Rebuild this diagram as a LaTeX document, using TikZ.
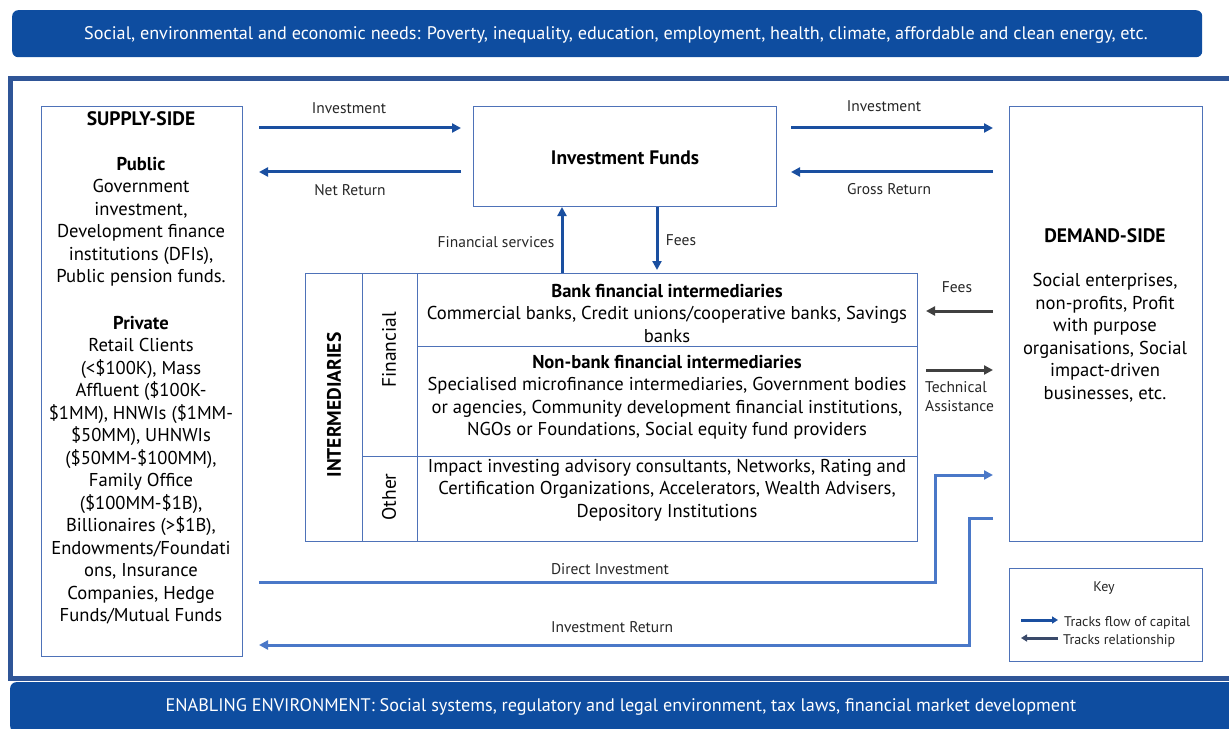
\documentclass[tikz,border=0pt]{standalone}
\usepackage{fontspec}
\setmainfont{PT Sans}
\usetikzlibrary{arrows.meta,calc}
\definecolor{banner}{HTML}{0E4DA0}
\definecolor{frameblue}{HTML}{2F5597}
\definecolor{boxline}{HTML}{4E72B8}
\definecolor{flow}{HTML}{1A4FA0}
\definecolor{lflow}{HTML}{4A78C8}
\definecolor{rel}{HTML}{404040}
\definecolor{keyrel}{HTML}{3A4A6A}
\tikzset{
  bodytxt/.style={align=center, inner sep=0pt, font=\fontsize{18.6bp}{22.5bp}\selectfont},
  headtxt/.style={inner sep=0pt, font=\fontsize{19.5bp}{22bp}\selectfont\bfseries},
  lbl/.style={inner sep=0pt, font=\fontsize{15.5bp}{19bp}\selectfont, text=black!85},
  keylbl/.style={inner sep=0pt, font=\fontsize{14bp}{16bp}\selectfont, text=black!85},
  cell/.style={draw=boxline, line width=1bp, rectangle, inner sep=0pt, anchor=north west},
  bannerbox/.style={fill=banner, rounded corners=6bp, draw=none, anchor=north west, inner sep=0pt},
  bannertxt/.style={text=white, inner sep=0pt, font=\fontsize{18.2bp}{20bp}\selectfont},
  flowarr/.style={draw=flow, line width=3bp, -{Triangle[length=9bp,width=9bp]}},
  lflowarr/.style={draw=lflow, line width=3bp, -{Triangle[length=9bp,width=9bp]}},
  relarr/.style={draw=rel, line width=3bp, -{Triangle[length=9bp,width=9bp]}},
}
\begin{document}
\begin{tikzpicture}[x=1bp,y=-1bp]
\useasboundingbox (0,0) rectangle (1229,729);
% banners
\node[bannerbox, minimum width=1190bp, minimum height=47bp] (top) at (12,10) {};
\node[bannertxt] (toptxt) at (616,34.5) {Social, environmental and economic needs: Poverty, inequality, education, employment, health, climate, affordable and clean energy, etc.};
\draw[frameblue, line width=5bp] (1229,79) -- (10.5,79) -- (10.5,678) -- (1229,678);
\node[bannerbox, minimum width=1230bp, minimum height=50bp] (bot) at (10,682) {};
\node[bannertxt] (bottxt) at (621,707) {ENABLING ENVIRONMENT: Social systems, regulatory and legal environment, tax laws, financial market development};

% supply side
\node[cell, minimum width=201bp, minimum height=550bp] (sup) at (41,106) {};
\node[headtxt] (suph) at (141,119) {SUPPLY-SIDE};
\node[bodytxt] (pub) at (141,221.5) {\textbf{Public}\\Government\\investment,\\Development finance\\institutions (DFIs),\\Public pension funds.};
\node[bodytxt] (priv) at (141,470) {\textbf{Private}\\Retail Clients\\(<\$100K), Mass\\Affluent (\$100K-\\\$1MM), HNWIs (\$1MM-\\\$50MM), UHNWIs\\(\$50MM-\$100MM),\\Family Office\\(\$100MM-\$1B),\\Billionaires (>\$1B),\\Endowments/Foundati\\ons, Insurance\\Companies, Hedge\\Funds/Mutual Funds};

% investment funds
\node[cell, minimum width=303bp, minimum height=100bp] (funds) at (473,106) {};
\node[headtxt] (fundst) at (625,158) {Investment Funds};

% demand side
\node[cell, minimum width=193bp, minimum height=435bp] (dem) at (1009,106) {};
\node[headtxt] (demh) at (1105,236) {DEMAND-SIDE};
\node[bodytxt] (demt) at (1105,338) {Social enterprises,\\non-profits, Profit\\with purpose\\organisations, Social\\impact-driven\\businesses, etc.};

% intermediaries table
\node[cell, minimum width=57bp, minimum height=268bp] (int) at (305,273) {};
\node[cell, minimum width=55bp, minimum height=183bp] (fin) at (362,273) {};
\node[cell, minimum width=55bp, minimum height=85bp] (oth) at (362,456) {};
\node[cell, minimum width=500bp, minimum height=73bp] (bank) at (417,273) {};
\node[cell, minimum width=500bp, minimum height=110bp] (nbank) at (417,346) {};
\node[cell, minimum width=500bp, minimum height=85bp] (other) at (417,456) {};
\node[headtxt, rotate=90] (intt) at (334,405) {INTERMEDIARIES};
\node[bodytxt, rotate=90, font=\fontsize{19.5bp}{22bp}\selectfont] (fint) at (389,350) {Financial};
\node[bodytxt, rotate=90, font=\fontsize{19.5bp}{22bp}\selectfont] (otht) at (389,497) {Other};
\node[bodytxt] (bankt) at (667,313) {\textbf{Bank financial intermediaries}\\Commercial banks, Credit unions/cooperative banks, Savings\\banks};
\node[bodytxt] (nbankt) at (667,397.5) {\textbf{Non-bank financial intermediaries}\\Specialised microfinance intermediaries, Government bodies\\or agencies, Community development financial institutions,\\NGOs or Foundations, Social equity fund providers};
\node[bodytxt] (othert) at (667,490) {Impact investing advisory consultants, Networks, Rating and\\Certification Organizations, Accelerators, Wealth Advisers,\\Depository Institutions};

% coordinates for arrows
\coordinate (s1) at (259,128); \coordinate (f1) at (461,128);
\coordinate (f2) at (461,172); \coordinate (s2) at (259,172);
\coordinate (f3) at (791,128); \coordinate (d3) at (993,128);
\coordinate (d4) at (993,172); \coordinate (f4) at (791,172);
\coordinate (d5) at (993,311); \coordinate (b5) at (926,311);
\coordinate (b6) at (926,370); \coordinate (d6) at (993,370);
\coordinate (s7) at (259,582); \coordinate (d7) at (993,475);
\coordinate (d8) at (993,518); \coordinate (s8) at (259,645);

\draw[flowarr] (bank.north -| 562,0) -- (funds.south -| 562,0);
\draw[flowarr, shorten >=1bp] (funds.south -| 657,0) -- ([yshift=2bp]bank.north -| 657,0);
\draw[flowarr] (s1) -- (f1);
\draw[flowarr] (f2) -- (s2);
\draw[flowarr] (f3) -- (d3);
\draw[flowarr] (d4) -- (f4);
\draw[relarr] (d5) -- (b5);
\draw[relarr] (b6) -- (d6);
\draw[lflowarr] (s7) -- (935,582) -- (935,475) -- (d7);
\draw[lflowarr] (d8) -- (969,518) -- (969,645) -- (s8);

% arrow labels
\node[lbl] (l1) at (349,108) {Investment};
\node[lbl] (l2) at (350,190) {Net Return};
\node[lbl] (l3) at (884,106) {Investment};
\node[lbl] (l4) at (889,189) {Gross Return};
\node[lbl] (l5) at (496,242) {Financial services};
\node[lbl] (l6) at (681,240) {Fees};
\node[lbl] (l7) at (957,287) {Fees};
\node[lbl, align=left, anchor=west] (l8) at (925,397) {Technical\\Assistance};
\node[lbl] (l9) at (610,569) {Direct Investment};
\node[lbl] (l10) at (612,627) {Investment Return};

% key
\node[cell, minimum width=193bp, minimum height=93bp] (key) at (1009,568) {};
\node[keylbl] (keyt) at (1104,588) {Key};
\coordinate (k1a) at (1021,620); \coordinate (k1b) at (1058,620);
\coordinate (k2a) at (1058,638); \coordinate (k2b) at (1021,638);
\draw[draw=flow, line width=3bp, -{Triangle[length=6bp,width=7bp]}] (k1a) -- (k1b);
\draw[draw=keyrel, line width=3bp, -{Triangle[length=6bp,width=7bp]}] (k2a) -- (k2b);
\node[keylbl, anchor=west] (kt1) at (1064,623) {Tracks flow of capital};
\node[keylbl, anchor=west] (kt2) at (1063,641) {Tracks relationship};
\end{tikzpicture}
\end{document}
